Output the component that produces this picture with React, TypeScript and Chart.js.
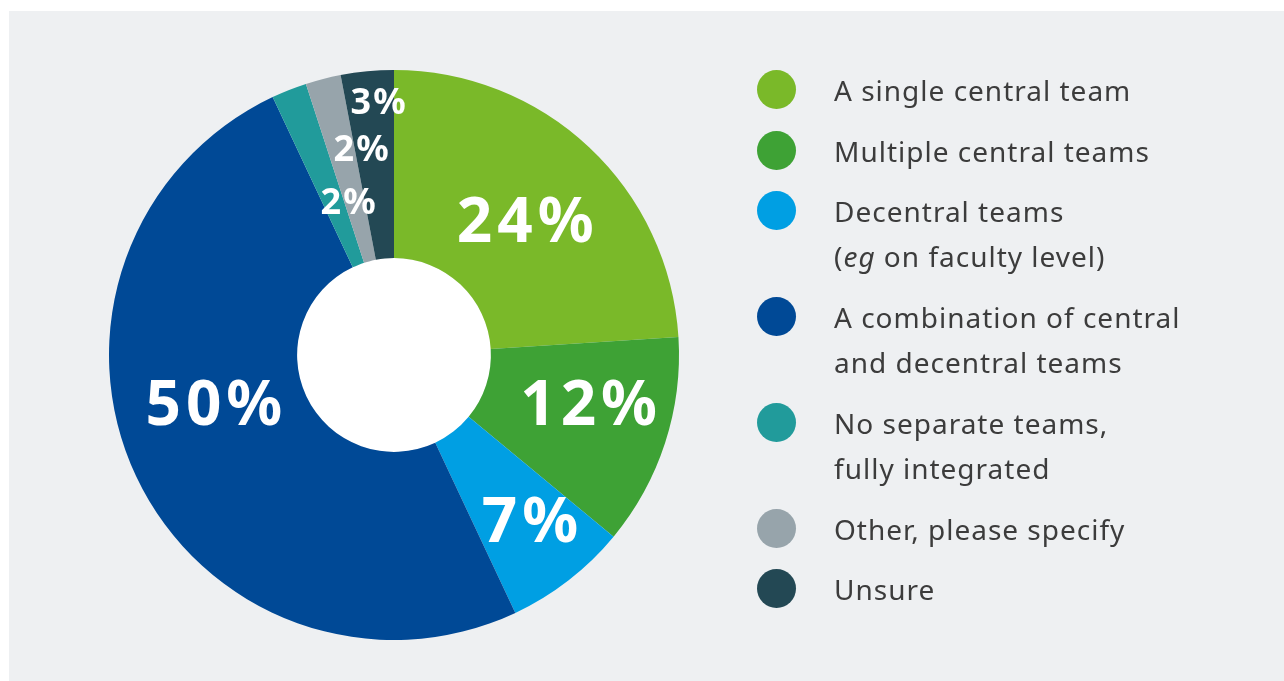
import React, { useEffect, useRef } from "react";
import { Chart, registerables } from "chart.js";

Chart.register(...registerables);

const categories: string[][] = [
  ["A single central team"],
  ["Multiple central teams"],
  ["Decentral teams", "(eg on faculty level)"],
  ["A combination of central", "and decentral teams"],
  ["No separate teams,", "fully integrated"],
  ["Other, please specify"],
  ["Unsure"],
];
const values: number[] = [24, 12, 7, 50, 2, 2, 3];
const valueLabels: string[] = ["24%", "12%", "7%", "50%", "2%", "2%", "3%"];
const colors: string[] = ["#7ab929", "#3ea235", "#009fe3", "#004996", "#219b9b", "#97a4ab", "#234854"];

// label placement: [angle offset (deg), radius as fraction of outer radius, font size, letter spacing]
const labelPlacement: [number, number, number, number][] = [
  [1.4, 0.656, 62, 5],
  [-3.6, 0.705, 62, 5],
  [-1.4, 0.755, 62, 5],
  [9.7, 0.656, 62, 5],
  [4.9, 0.56, 36, 2],
  [5.3, 0.73, 36, 2],
  [1.8, 0.89, 36, 2],
];

const labelPlugin = {
  id: "sliceLabels",
  beforeDatasetsDraw(chart: any) {
    const meta = chart.getDatasetMeta(0);
    const a = meta.data[0];
    if (!a) return;
    const ctx = chart.ctx;
    ctx.save();
    ctx.fillStyle = "#ffffff";
    ctx.beginPath();
    ctx.arc(a.x, a.y, a.innerRadius, 0, Math.PI * 2);
    ctx.fill();
    ctx.restore();
  },
  afterDatasetsDraw(chart: any) {
    const meta = chart.getDatasetMeta(0);
    const ctx = chart.ctx;
    ctx.save();
    ctx.fillStyle = "#ffffff";
    ctx.textAlign = "center";
    ctx.textBaseline = "middle";
    meta.data.forEach((arc: any, i: number) => {
      const [off, frac, size, ls] = labelPlacement[i];
      const mid = (arc.startAngle + arc.endAngle) / 2 + (off * Math.PI) / 180;
      const r = arc.outerRadius * frac;
      const x = arc.x + r * Math.cos(mid);
      const y = arc.y + r * Math.sin(mid);
      ctx.font = `bold ${size}px "Noto Sans", sans-serif`;
      (ctx as any).letterSpacing = `${ls}px`;
      ctx.fillText(valueLabels[i], x + ls / 2, y + size * 0.04);
    });
    ctx.restore();
  },
};

const legendTops = [90, 151, 211, 317, 423, 529, 589];

export default function App() {
  const ref = useRef<HTMLCanvasElement | null>(null);
  useEffect(() => {
    document.body.style.margin = "0";
    const chart = new Chart(ref.current as HTMLCanvasElement, {
      type: "doughnut",
      data: {
        labels: categories.map((c) => c.join(" ")),
        datasets: [
          {
            data: values,
            backgroundColor: colors,
            borderWidth: 0,
          },
        ],
      },
      options: {
        animation: false,
        responsive: false,
        cutout: "34%",
        layout: { padding: { left: 109, right: 109, top: 70, bottom: 41 } },
        plugins: { legend: { display: false }, tooltip: { enabled: false } },
      },
      plugins: [labelPlugin],
    });
    return () => chart.destroy();
  }, []);

  return (
    <div style={{ position: "relative", width: 1284, height: 681, background: "#ffffff", overflow: "hidden" }}>
      <div style={{ position: "absolute", left: 9, top: 11, width: 1275, height: 670, background: "#eef0f2" }} />
      <canvas ref={ref} width={788} height={681} style={{ position: "absolute", left: 0, top: 0, width: 788, height: 681 }} />
      {categories.map((lines, i) => (
        <div key={i} style={{ position: "absolute", left: 757, top: legendTops[i] - 20 }}>
          <div style={{ position: "absolute", left: 0, top: 0, width: 39, height: 39, borderRadius: "50%", background: colors[i] }} />
          <div
            style={{
              position: "absolute",
              left: 77,
              top: -2,
              whiteSpace: "nowrap",
              fontFamily: '"Noto Sans", sans-serif',
              fontSize: 28,
              letterSpacing: "1px",
              lineHeight: "45px",
              color: "#3c3c3c",
            }}
          >
            {lines.map((l, j) => (
              <div key={j}>
                {l.startsWith("(eg") ? (
                  <>
                    (<i>eg</i>
                    {l.slice(3)}
                  </>
                ) : (
                  l
                )}
              </div>
            ))}
          </div>
        </div>
      ))}
    </div>
  );
}
